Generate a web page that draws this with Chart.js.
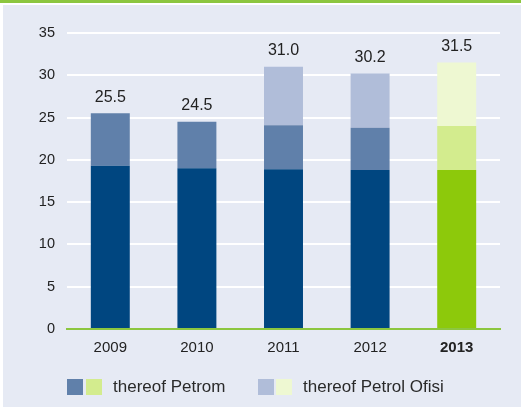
<!DOCTYPE html>
<html><head><meta charset="utf-8">
<script src="https://cdn.jsdelivr.net/npm/chart.js@4.4.0/dist/chart.umd.min.js"></script>
<style>
html,body{margin:0;padding:0;background:#fff;width:521px;height:407px;overflow:hidden;font-family:"Liberation Sans",Arial,sans-serif;}
#topbar{position:absolute;left:0;top:0;width:521px;height:3px;background:#8cc63f;}
#panel{position:absolute;left:3px;top:5px;width:518px;height:402px;background:#e6eaf4;}
#wrap{position:absolute;left:0;top:0;width:521px;height:407px;}
#legend{position:absolute;left:67px;top:379px;width:440px;height:16px;font-size:17px;color:#2a2a2a;}
.sw{position:absolute;top:0;width:16px;height:16px;}
.lt{position:absolute;top:-2px;line-height:19px;white-space:nowrap;}
</style></head>
<body>
<div id="topbar"></div>
<div id="panel"></div>
<div id="wrap"><canvas id="c" width="521" height="407"></canvas></div>
<div id="legend">
  <div class="sw" style="left:0;background:#6080aa"></div>
  <div class="sw" style="left:19px;background:#d3ec8e"></div>
  <div class="lt" style="left:46px">thereof Petrom</div>
  <div class="sw" style="left:191px;background:#b0bdd9"></div>
  <div class="sw" style="left:209px;background:#eef8d2"></div>
  <div class="lt" style="left:236px">thereof Petrol Ofisi</div>
</div>
<script>
const categories = ["2009","2010","2011","2012","2013"];
const baseValues = [19.3, 19.0, 18.9, 18.8, 18.8];
const petromValues = [6.2, 5.5, 5.2, 5.0, 5.2];
const ofisiValues = [0, 0, 6.9, 6.4, 7.5];
const totalLabels = ["25.5","24.5","31.0","30.2","31.5"];
const yTicks = [0,5,10,15,20,25,30,35];

const FONT = '"Liberation Sans", Arial, sans-serif';
const blueD='#004680', blueM='#6080aa', blueL='#b0bdd9';
const greenD='#8dc90b', greenM='#d3ec8e', greenL='#eef8d2';
const hi = categories.length-1;
const col = (b,g)=>categories.map((c,i)=> i===hi ? g : b);

const totalsPlugin = {
  id:'totals',
  afterDatasetsDraw(chart){
    const ctx = chart.ctx;
    const meta = chart.getDatasetMeta(2);
    const y = chart.scales.y;
    ctx.save();
    ctx.font = '16px '+FONT;
    ctx.fillStyle = '#222';
    ctx.textAlign='center';
    ctx.textBaseline='middle';
    categories.forEach((c,i)=>{
      const tot = baseValues[i]+petromValues[i]+ofisiValues[i];
      const x = meta.data[i].x;
      ctx.fillText(totalLabels[i], x, y.getPixelForValue(tot)-16);
    });
    ctx.restore();
  }
};

new Chart(document.getElementById('c'), {
  type:'bar',
  data:{
    labels:categories,
    datasets:[
      {label:'base', data:baseValues, backgroundColor:col(blueD,greenD)},
      {label:'thereof Petrom', data:petromValues, backgroundColor:col(blueM,greenM)},
      {label:'thereof Petrol Ofisi', data:ofisiValues, backgroundColor:col(blueL,greenL)}
    ]
  },
  options:{
    responsive:false,
    animation:false,
    layout:{padding:{top:33,right:21,left:0,bottom:0}},
    datasets:{bar:{barPercentage:0.9,categoryPercentage:0.5,borderWidth:0}},
    plugins:{legend:{display:false},tooltip:{enabled:false}},
    scales:{
      x:{
        stacked:true,
        grid:{display:false,drawTicks:false},
        border:{display:true,color:'#8cc63f',width:2},
        ticks:{padding:10,color:'#222',font:(ctx)=>({family:FONT,size:15,weight:ctx.index===hi?'bold':'normal'})},
        afterFit(s){s.height=78;}
      },
      y:{
        stacked:true,
        min:0,max:35,
        afterBuildTicks(s){s.ticks=yTicks.map(v=>({value:v}));},
        grid:{drawTicks:false,color:'#ffffff',lineWidth:2},
        border:{display:false},
        ticks:{padding:12,color:'#222',font:{family:FONT,size:14.5}},
        afterFit(s){s.width=67;}
      }
    }
  },
  plugins:[totalsPlugin]
});
</script>
</body></html>
